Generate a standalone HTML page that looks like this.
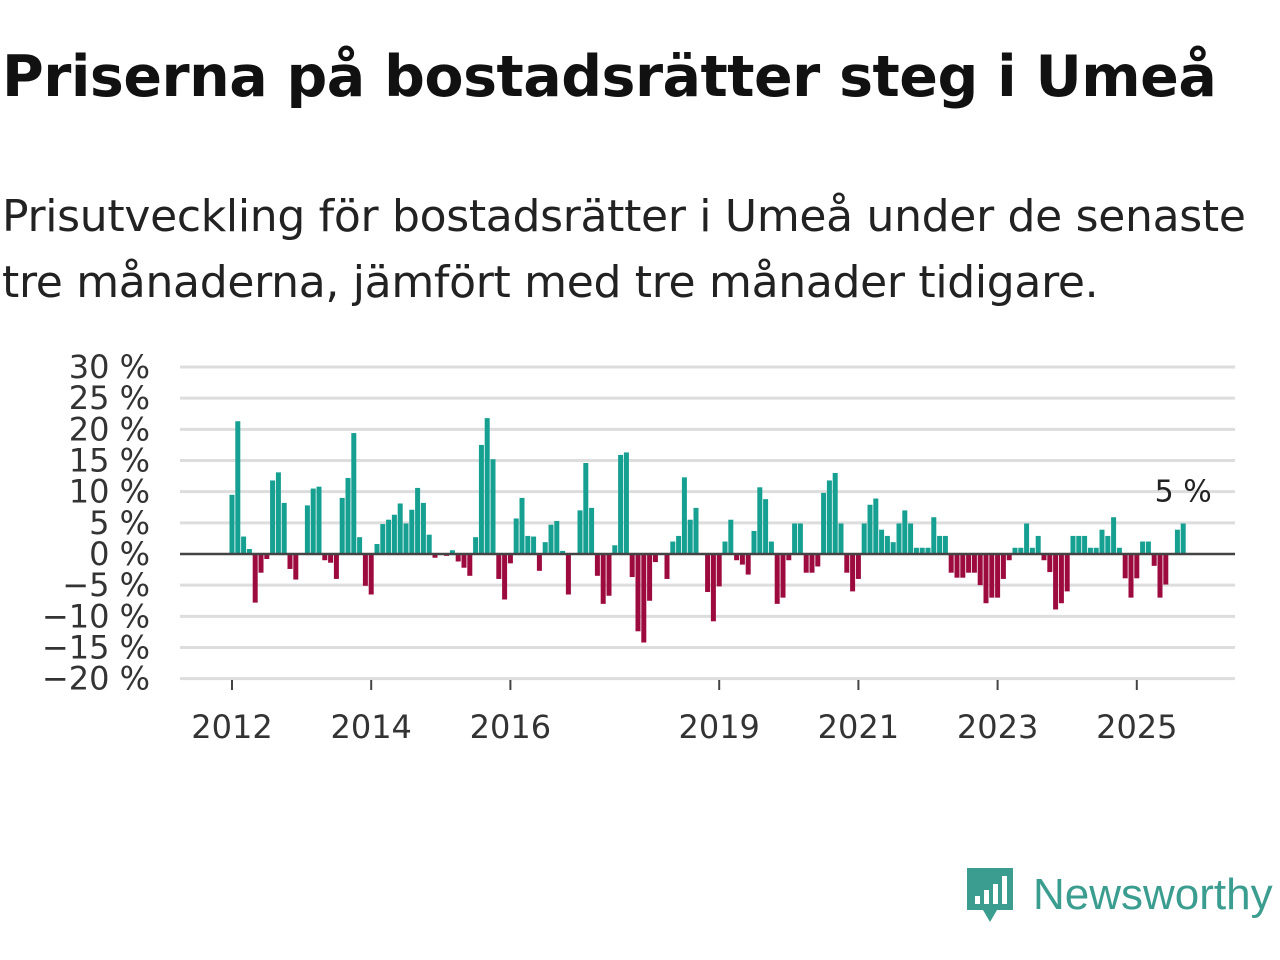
<!DOCTYPE html>
<html><head><meta charset="utf-8"><style>
body{margin:0;width:1280px;height:960px;background:#fff;font-family:"Liberation Sans","DejaVu Sans",sans-serif;overflow:hidden;position:relative}
h1{position:absolute;left:2px;top:44px;margin:0;font-size:57px;font-weight:bold;color:#111;font-family:"DejaVu Sans","Liberation Sans",sans-serif;letter-spacing:-0.5px;white-space:nowrap}
.sub{position:absolute;left:2px;top:184px;margin:0;font-size:44px;line-height:66px;color:#222;font-family:"DejaVu Sans","Liberation Sans",sans-serif;letter-spacing:-0.3px;white-space:nowrap}
svg{position:absolute;left:0;top:0}
</style></head><body>
<h1>Priserna på bostadsrätter steg i Umeå</h1>
<p class="sub">Prisutveckling för bostadsrätter i Umeå under de senaste<br>tre månaderna, jämfört med tre månader tidigare.</p>
<svg id="chart" width="1280" height="960"></svg>
<div style="position:absolute;left:965px;top:866px;display:flex;align-items:center">
<svg width="50" height="58" style="position:static"><path d="M2 2h46v42H32l-7 12-7-12H2z" fill="#3a9d8f"/><rect x="10" y="30" width="5" height="8" fill="#fff"/><rect x="19" y="24" width="5" height="14" fill="#fff"/><rect x="28" y="18" width="5" height="20" fill="#fff"/><rect x="37" y="10" width="5" height="28" fill="#fff"/></svg>
<span style="font-size:44px;color:#3a9d8f;margin-left:18px;font-family:'Liberation Sans',sans-serif">Newsworthy</span></div>
<script>
const yTicks=[30,25,20,15,10,5,0,-5,-10,-15,-20];
const yearLabels=["2012","2014","2016","2019","2021","2023","2025"];
const yearMonthIdx=[0,24,48,84,108,132,156];
const values=[9.5,21.3,2.8,0.8,-7.8,-3,-0.8,11.8,13.1,8.2,-2.4,-4.1,0,7.8,10.5,10.8,-1,-1.4,-4,9,12.2,19.4,2.7,-5.1,-6.5,1.6,4.8,5.5,6.3,8.1,4.9,7.1,10.6,8.2,3.1,-0.6,0,-0.3,0.6,-1.2,-2.2,-3.5,2.7,17.5,21.8,15.2,-4,-7.3,-1.5,5.7,9,2.9,2.8,-2.7,1.9,4.7,5.3,0.5,-6.5,0,7,14.6,7.4,-3.5,-8,-6.7,1.4,15.9,16.3,-3.7,-12.4,-14.2,-7.5,-1.3,0,-4,2,2.9,12.3,5.5,7.4,0,-6.1,-10.8,-5.2,2,5.5,-1,-1.7,-3.3,3.7,10.7,8.8,2,-8,-7,-1,4.9,4.9,-3,-3,-2,9.8,11.8,13,4.9,-3,-6,-4,4.9,7.9,8.9,3.9,2.9,1.9,4.9,7,4.9,1,1,1,5.9,2.9,2.9,-3,-3.8,-3.8,-3,-3,-5,-7.9,-7,-7,-4,-1,1,1,4.9,1,2.9,-1,-2.9,-8.9,-7.9,-6,2.9,2.9,2.9,1,1,3.9,2.9,5.9,1,-3.9,-7,-3.9,2,2,-1.9,-7,-4.9,0,3.9,4.9];
const NS="http://www.w3.org/2000/svg";
const svg=document.getElementById('chart');
const x0=232,mw=5.8,yZero=554,ppu=6.233,left=180,right=1235;
const X=i=>x0+i*mw;
const Y=v=>yZero-v*ppu;
function mk(t,a){const e=document.createElementNS(NS,t);for(const k in a)e.setAttribute(k,a[k]);svg.appendChild(e);return e;}
yTicks.forEach(t=>{
 if(t!==0){const g=mk('line',{x1:left,x2:right,y1:Y(t),y2:Y(t),stroke:'#ddd','stroke-width':3});
 
 }
 const l=mk('text',{x:150,y:Y(t)+11,'text-anchor':'end','font-size':32,fill:'#333','font-family':'DejaVu Sans, Liberation Sans, sans-serif'});
 l.textContent=(t<0?'\u2212'+(-t):t)+' %';
 
 
});
values.forEach((v,i)=>{
 const r=mk('rect',{x:X(i)-2.5,width:5,y:Math.min(Y(v),yZero),height:Math.abs(Y(v)-yZero),fill:v>=0?'#16a092':'#9c0a3e'});
 
 
});
const z=mk('line',{x1:left,x2:right,y1:yZero,y2:yZero,stroke:'#444','stroke-width':2.5});


yearLabels.forEach((lab,k)=>{
 const xx=X(yearMonthIdx[k]);
 const tk=mk('line',{x1:xx,x2:xx,y1:680,y2:690,stroke:'#444','stroke-width':2});
 
 
 const t=mk('text',{x:xx,y:738,'text-anchor':'middle','font-size':32,fill:'#333','font-family':'DejaVu Sans, Liberation Sans, sans-serif'});
 t.textContent=lab;
 
 
});
const last=values.length-1;
const an=mk('text',{x:X(last),y:Y(values[last])-22,'text-anchor':'middle','font-size':30,fill:'#222','font-family':'DejaVu Sans, Liberation Sans, sans-serif'});
an.textContent=Math.round(values[last])+' %';


</script>
</body></html>
